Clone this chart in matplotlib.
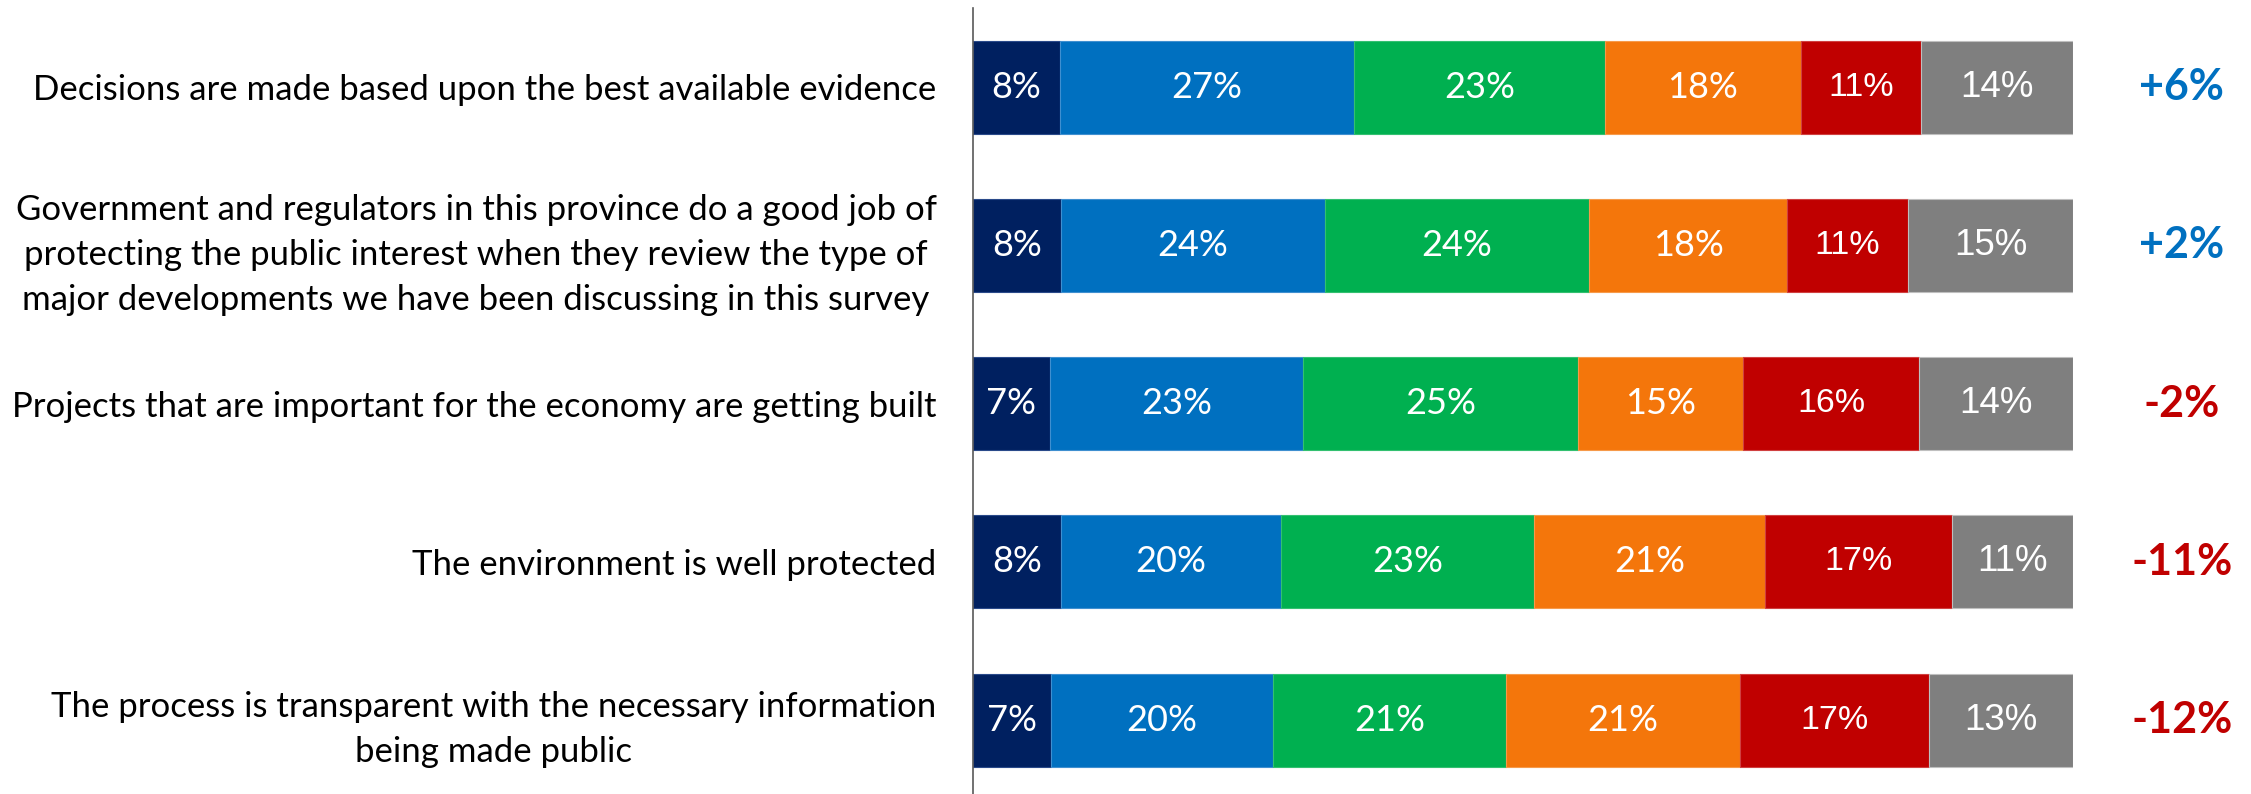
import matplotlib
matplotlib.use("Agg")
import matplotlib.pyplot as plt
import matplotlib.transforms as mtransforms
import numpy as np

categories = [
    "Decisions are made based upon the best available evidence",
    "Government and regulators in this province do a good job of\nprotecting the public interest when they review the type of\nmajor developments we have been discussing in this survey",
    "Projects that are important for the economy are getting built",
    "The environment is well protected",
    "The process is transparent with the necessary information\nbeing made public",
]
strongly_agree = [8, 8, 7, 8, 7]
somewhat_agree = [27, 24, 23, 20, 20]
neutral = [23, 24, 25, 23, 21]
somewhat_disagree = [18, 18, 15, 21, 21]
strongly_disagree = [11, 11, 16, 17, 17]
dont_know = [14, 15, 14, 11, 13]
net_labels = ["+6%", "+2%", "-2%", "-11%", "-12%"]
net_colors = ["#0070C0", "#0070C0", "#C00000", "#C00000", "#C00000"]

series = [strongly_agree, somewhat_agree, neutral, somewhat_disagree,
          strongly_disagree, dont_know]
seg_colors = ["#002060", "#0070C0", "#00B050", "#F4760B", "#C00000", "#7F7F7F"]
edge_colors = ["#2a4a8a", "#3f8fd0", "#33c070", "#f69a4a", "#d04040", "#BFBFBF"]
label_fonts = ["Lato", "Lato", "Lato", "Lato", "Liberation Sans", "Liberation Sans"]
label_sizes = [26, 26, 26, 26, 24.5, 26.5]

W, H = 2251, 794
fig = plt.figure(figsize=(W / 100, H / 100), dpi=100)
ax_left = 972.7 / W
ax_width = (2073.3 - 972.7) / W
ax_top_px = 7.85
ax_bot_px = 799.4
ax = fig.add_axes([ax_left, (H - ax_bot_px) / H, ax_width, (ax_bot_px - ax_top_px) / H])

vals = np.array(series, dtype=float)  # shape (6, 5)
totals = vals.sum(axis=0)
shares = vals / totals * 100
y = np.arange(len(categories))
left = np.zeros(len(categories))
for i in range(len(series)):
    ax.barh(y, shares[i], left=left, height=0.5875, color=seg_colors[i],
            edgecolor=edge_colors[i], linewidth=0.8)
    for j in range(len(categories)):
        ax.text(left[j] + shares[i][j] / 2, y[j], f"{series[i][j]}%",
                ha="center", va="center", color="white",
                fontsize=label_sizes[i], family=label_fonts[i])
    left += shares[i]

ax.set_xlim(0, 100)
ax.set_ylim(len(categories) - 0.5, -0.5)
ax.set_xticks([])
ax.set_yticks(y)
ax.set_yticklabels(categories, fontsize=25, family="Lato", multialignment="center",
                   linespacing=1.5)
ax.tick_params(axis="y", length=0, pad=26)
for s in ["top", "right", "bottom"]:
    ax.spines[s].set_visible(False)
ax.spines["left"].set_color("#595959")
ax.spines["left"].set_linewidth(1.2)

trans = mtransforms.blended_transform_factory(ax.transAxes, ax.transData)
for j in range(len(categories)):
    ax.text(1.0985, y[j], net_labels[j], transform=trans, ha="center", va="center",
            fontsize=31, fontweight="bold", family="Lato", color=net_colors[j],
            clip_on=False)

fig.savefig("out.png", dpi=100)
